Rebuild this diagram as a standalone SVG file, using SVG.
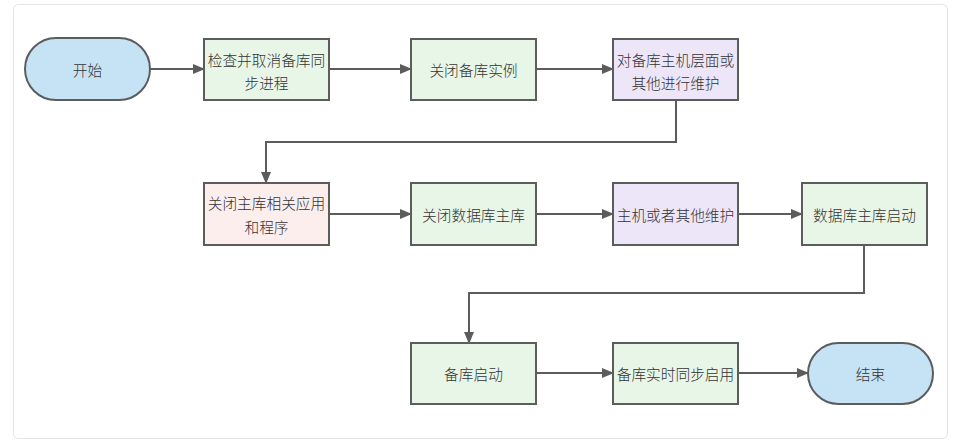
<svg xmlns="http://www.w3.org/2000/svg" width="956" height="444" viewBox="0 0 956 444">
<defs>
<marker id="ah" markerWidth="12" markerHeight="10" refX="11" refY="5" orient="auto" markerUnits="userSpaceOnUse">
<path d="M0,0 L12,5 L0,10 Z" fill="#5c5c5c"/>
</marker>
</defs>
<style>
.n{stroke:#5c5c5c;stroke-width:2}
.g{fill:#e8f6e8}
.p{fill:#ede6f8}
.r{fill:#fdeeee}
.b{fill:#c6e3f6}
text{font-family:"Noto Sans CJK SC","Liberation Sans",sans-serif;font-size:14.7px;font-weight:300;fill:#333;text-anchor:middle;dominant-baseline:central}
.c{fill:none;stroke:#5c5c5c;stroke-width:2;marker-end:url(#ah)}
</style>
<rect x="13.5" y="4.5" width="934" height="434" rx="5" fill="#fff" stroke="#e4e4e4"/>
<g id="connectors">
<path class="c" d="M150,69 H204"/>
<path class="c" d="M329,69 H411"/>
<path class="c" d="M536,69 H613"/>
<path class="c" d="M676,100 V142 H266 V183"/>
<path class="c" d="M329,214 H411"/>
<path class="c" d="M536,214 H613"/>
<path class="c" d="M738,214 H802"/>
<path class="c" d="M864,245 V293 H469 V343"/>
<path class="c" d="M536,373 H613"/>
<path class="c" d="M738,373 H808"/>
</g>
<g id="start"><rect class="n b" x="25" y="38" width="125" height="62" rx="31"/><text x="87.5" y="69">开始</text></g>
<g id="n1"><rect class="n g" x="204" y="39" width="125" height="61"/><text x="266.5" y="59">检查并取消备库同</text><text x="266.5" y="82">步进程</text></g>
<g id="n2"><rect class="n g" x="411" y="39" width="125" height="61"/><text x="473.5" y="69.5">关闭备库实例</text></g>
<g id="n3"><rect class="n p" x="613" y="39" width="125" height="61"/><text x="675.5" y="59">对备库主机层面或</text><text x="675.5" y="82">其他进行维护</text></g>
<g id="n4"><rect class="n r" x="204" y="183" width="125" height="62"/><text x="266.5" y="202">关闭主库相关应用</text><text x="266.5" y="226">和程序</text></g>
<g id="n5"><rect class="n g" x="411" y="183" width="125" height="62"/><text x="473.5" y="214">关闭数据库主库</text></g>
<g id="n6"><rect class="n p" x="613" y="183" width="125" height="62"/><text x="675.5" y="214">主机或者其他维护</text></g>
<g id="n7"><rect class="n g" x="802" y="183" width="125" height="62"/><text x="864.5" y="214">数据库主库启动</text></g>
<g id="n8"><rect class="n g" x="411" y="343" width="125" height="61"/><text x="473.5" y="373.5">备库启动</text></g>
<g id="n9"><rect class="n g" x="613" y="343" width="125" height="61"/><text x="675.5" y="373.5">备库实时同步启用</text></g>
<g id="end"><rect class="n b" x="808" y="343" width="125" height="61" rx="30.5"/><text x="870.5" y="373.5">结束</text></g>
</svg>
